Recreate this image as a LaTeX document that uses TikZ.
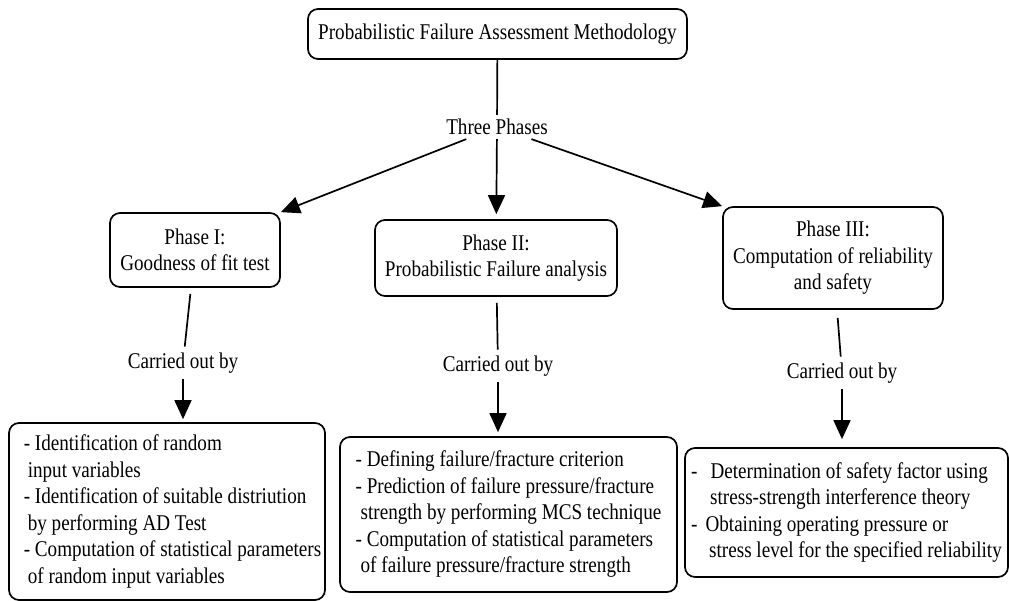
\documentclass[tikz,border=0pt]{standalone}
\usepackage{fontspec}
\setmainfont[FakeStretch=0.85]{Liberation Serif}
\usetikzlibrary{arrows.meta,calc}
\begin{document}
\begin{tikzpicture}[x=1pt,y=-1pt,
  txt/.style={font=\fontsize{22.5}{26.5}\selectfont},
  box/.style={txt, draw, line width=1.7pt, rounded corners=10pt, align=center, inner sep=0pt},
  listbox/.style={txt, draw, line width=1.7pt, rounded corners=10pt, align=left, inner sep=0pt},
  lbl/.style={txt, inner xsep=2pt, inner ysep=6pt},
  ln/.style={line width=1.7pt},
  arr/.style={line width=1.7pt, -{Triangle[length=19pt,width=17pt]}}
]
\useasboundingbox (0,0) rectangle (1009,601);
\node[box, minimum width=379pt, minimum height=50pt] (top) at (497.5,34) {Probabilistic Failure Assessment Methodology};
\node[lbl, inner ysep=4pt] (three) at (497,127) {Three Phases};
\node[box, minimum width=170pt, minimum height=74pt] (p1) at (195,250) {Phase I:\\Goodness of fit test};
\node[box, minimum width=242pt, minimum height=76pt] (p2) at (496,258) {Phase II:\\Probabilistic Failure analysis};
\node[box, minimum width=220pt, minimum height=102pt] (p3) at (833,258) {Phase III:\\Computation of reliability\\and safety};
\node[lbl] (c1) at (183,363) {Carried out by};
\node[lbl] (c2) at (498,366) {Carried out by};
\node[lbl] (c3) at (842,373) {Carried out by};
\node[listbox, minimum width=316pt, minimum height=177pt] (b1) at (167,511.5) {\hspace*{11pt}- Identification of random\\\hspace*{15pt}input variables\\\hspace*{11pt}- Identification of suitable distriution\\\hspace*{15pt}by performing AD Test\\\hspace*{11pt}- Computation of statistical parameters\\\hspace*{15pt}of random input variables};
\node[listbox, minimum width=337pt, minimum height=155pt] (b2) at (508.5,514.5) {- Defining failure/fracture criterion\\- Prediction of failure pressure/fracture\\\hspace*{5pt}strength by performing MCS technique\\- Computation of statistical parameters\\\hspace*{5pt}of failure pressure/fracture strength};
\node[listbox, minimum width=323pt, minimum height=129pt] (b3) at (846.5,512.5) {-\hspace{13pt}Determination of safety factor using\\\hspace*{19pt}stress-strength interference theory\\-\hspace{8pt}Obtaining operating pressure or\\\hspace*{18pt}stress level for the specified reliability};
\draw[ln] (top) -- (three);
\draw[arr] (three) -- (p1.north east);
\draw[arr, shorten >=5pt] (three) -- (p2);
\draw[arr] (three) -- (p3.north west);
\draw[ln, shorten <=6pt] (p1) -- (c1);
\draw[ln, shorten <=6pt] (p2) -- (c2);
\draw[ln, shorten <=8pt] (p3) -- (c3);
\draw[arr, shorten >=3pt] (c1) -- (c1 |- b1.north);
\draw[arr, shorten >=4pt] (c2) -- (c2 |- b2.north);
\draw[arr, shorten >=8pt] (c3) -- (c3 |- b3.north);
\end{tikzpicture}
\end{document}
